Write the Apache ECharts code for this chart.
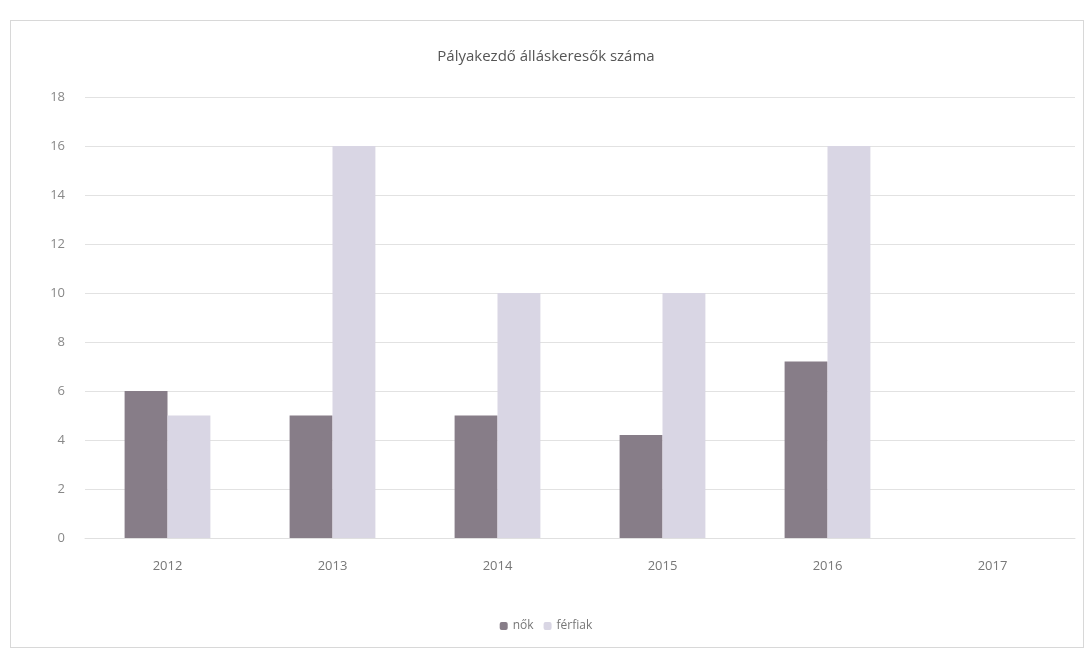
<!DOCTYPE html>
<html>
<head>
<meta charset="utf-8">
<script src="https://cdn.jsdelivr.net/npm/echarts@6/dist/echarts.min.js"></script>
<style>
html,body{margin:0;padding:0;background:#fff;}
#frame{position:absolute;left:10px;top:20px;width:1074px;height:628px;border:1px solid #d8d8d8;box-sizing:border-box;}
#chart{position:absolute;left:0;top:0;width:1092px;height:655px;}
</style>
</head>
<body>
<div id="frame"></div>
<div id="chart"></div>
<script>
const categories = ['2012','2013','2014','2015','2016','2017'];
const nokValues = [6, 5, 5, 4.2, 7.2, null];
const ferfiakValues = [5, 16, 10, 10, 16, null];
const seriesNames = ['nők', 'férfiak'];
const titleText = 'Pályakezdő álláskeresők száma';

const chart = echarts.init(document.getElementById('chart'));
chart.setOption({
  animation: false,
  backgroundColor: 'transparent',
  title: {
    text: titleText,
    left: 'center',
    top: 44,
    textStyle: {fontFamily: 'Open Sans', fontSize: 15, fontWeight: 'normal', color: '#555'}
  },
  legend: {
    data: seriesNames,
    bottom: 18,
    left: 'center',
    itemWidth: 8,
    itemHeight: 8,
    itemGap: 10,
    textStyle: {fontFamily: 'Open Sans', fontSize: 12, color: '#777'}
  },
  grid: {left: 85, right: 17, top: 97, bottom: 117, containLabel: false},
  xAxis: {
    type: 'category',
    data: categories,
    axisTick: {show: false},
    axisLine: {show: true, lineStyle: {color: '#e0e0e0'}},
    axisLabel: {fontFamily: 'Open Sans', fontSize: 13, color: '#777', margin: 22}
  },
  yAxis: {
    type: 'value',
    min: 0,
    max: 18,
    interval: 2,
    axisLine: {show: false},
    axisTick: {show: false},
    axisLabel: {fontFamily: 'Open Sans', fontSize: 13, color: '#888', margin: 20},
    splitLine: {lineStyle: {color: '#e2e2e2'}}
  },
  series: [
    {name: seriesNames[0], type: 'bar', data: nokValues, barGap: '0%', barCategoryGap: '48%',
     itemStyle: {color: '#877d88'}},
    {name: seriesNames[1], type: 'bar', data: ferfiakValues,
     itemStyle: {color: '#d9d6e4'}}
  ]
});
</script>
</body>
</html>
